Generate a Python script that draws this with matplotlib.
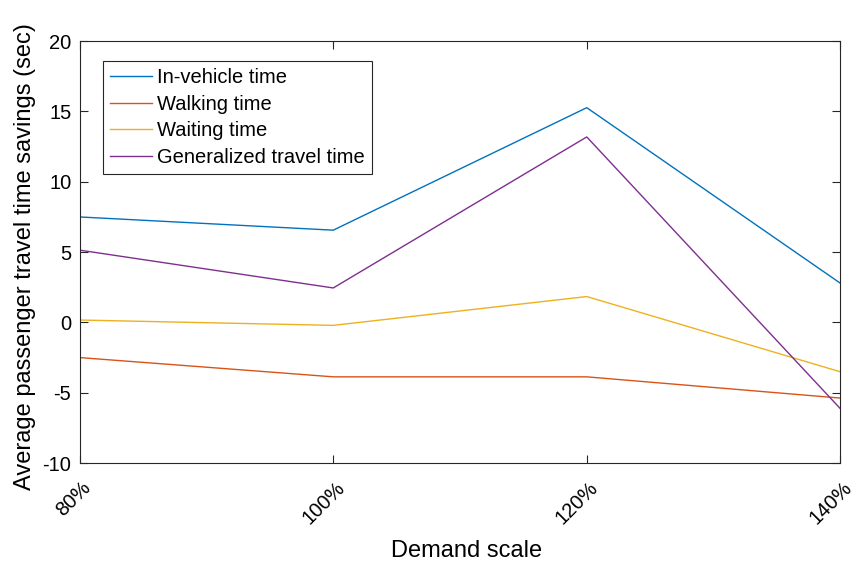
import matplotlib
matplotlib.use("Agg")
import matplotlib.pyplot as plt
from matplotlib.transforms import ScaledTranslation

plt.rcParams['font.family'] = ['Liberation Sans', 'DejaVu Sans']
plt.rcParams['axes.unicode_minus'] = False

demand = ["80%", "100%", "120%", "140%"]
in_vehicle = [7.5, 6.56, 15.27, 2.79]
walking = [-2.5, -3.87, -3.87, -5.38]
waiting = [0.17, -0.21, 1.84, -3.51]
generalized = [5.14, 2.45, 13.19, -6.13]

series = [
    ("In-vehicle time", in_vehicle, "#0072BD"),
    ("Walking time", walking, "#D95319"),
    ("Waiting time", waiting, "#EDB120"),
    ("Generalized travel time", generalized, "#7E2F8E"),
]

fig = plt.figure(figsize=(8.55, 5.64), dpi=100)
ax = fig.add_axes([0.0932, 0.179, 0.8896, 0.748])

x = list(range(len(demand)))
for name, vals, col in series:
    ax.plot(x, vals, color=col, lw=1.0, label=name)

ax.set_xlim(0, len(demand) - 1)
ax.set_ylim(-10, 20)
ax.set_xticks(x)
ax.set_xticklabels(demand, rotation=45, ha="right", va="center",
                   rotation_mode="anchor")
ax.set_yticks(range(-10, 21, 5))
ax.tick_params(direction="in", length=5.5, width=0.8, labelsize=14.5,
               colors="#262626", top=True, right=True, labelcolor="black")
ax.tick_params(axis="y", pad=6)
ax.tick_params(axis="x", pad=0)
# MATLAB style: rotated labels hang below/right of the tick
off = ScaledTranslation(8.5 / 100, -21.5 / 100, fig.dpi_scale_trans)
for lab in ax.get_xticklabels():
    lab.set_transform(lab.get_transform() + off)

for s in ax.spines.values():
    s.set_color("#262626")
    s.set_linewidth(0.8)

ax.set_xlabel("Demand scale", fontsize=17, va="center")
ax.xaxis.set_label_coords(0.509, -0.209)
ax.set_ylabel("Average passenger travel time savings (sec)", fontsize=17,
              va="center")
ax.yaxis.set_label_coords(-0.072, 0.49)

leg = ax.legend(loc="upper left", bbox_to_anchor=(0.0306, 0.9526),
                borderaxespad=0, fontsize=14.5,
                fancybox=False, framealpha=1, edgecolor="#262626",
                handlelength=2.1, handletextpad=0.25, labelspacing=0.37,
                borderpad=0.35)
leg.get_frame().set_linewidth(0.8)

fig.savefig("out.png", dpi=100)
